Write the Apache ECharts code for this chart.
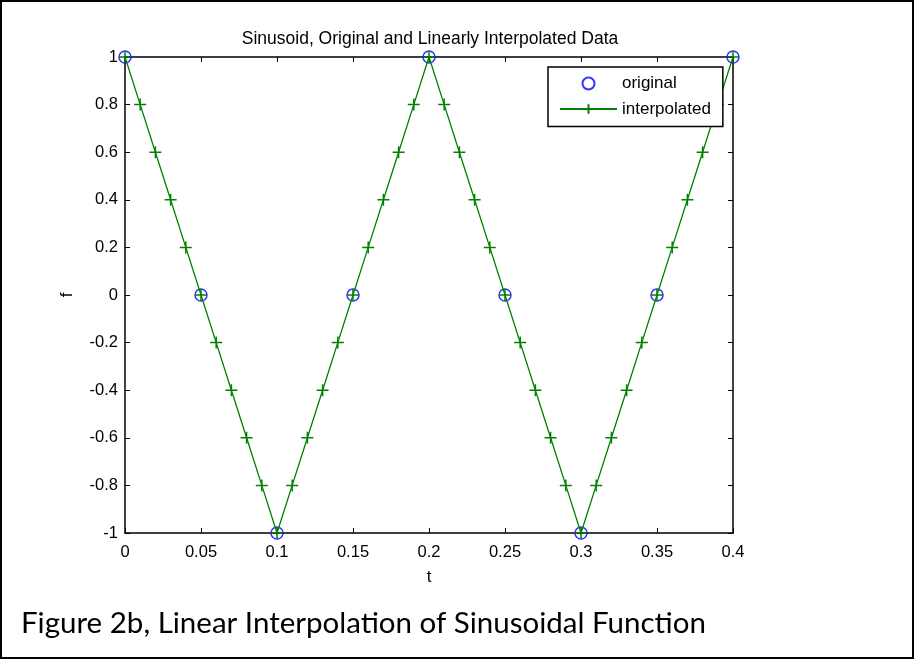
<!DOCTYPE html>
<html><head><meta charset="utf-8">
<script src="https://cdn.jsdelivr.net/npm/echarts@6/dist/echarts.min.js"></script>
<style>html,body{margin:0;padding:0;background:#fff}#c{width:915px;height:660px}</style>
</head><body><div id="c"></div>
<script>
const titleText = 'Sinusoid, Original and Linearly Interpolated Data';
const captionText = 'Figure 2b, Linear Interpolation of Sinusoidal Function';
const xName = 't';
const yName = 'f';
const origT = [0, 0.05, 0.1, 0.15, 0.2, 0.25, 0.3, 0.35, 0.4];
const origF = [1, 0, -1, 0, 1, 0, -1, 0, 1];
const interpT = [0,0.01,0.02,0.03,0.04,0.05,0.06,0.07,0.08,0.09,0.1,0.11,0.12,0.13,0.14,0.15,0.16,0.17,0.18,0.19,0.2,0.21,0.22,0.23,0.24,0.25,0.26,0.27,0.28,0.29,0.3,0.31,0.32,0.33,0.34,0.35,0.36,0.37,0.38,0.39,0.4];
const interpF = [1,0.8,0.6,0.4,0.2,0,-0.2,-0.4,-0.6,-0.8,-1,-0.8,-0.6,-0.4,-0.2,0,0.2,0.4,0.6,0.8,1,0.8,0.6,0.4,0.2,0,-0.2,-0.4,-0.6,-0.8,-1,-0.8,-0.6,-0.4,-0.2,0,0.2,0.4,0.6,0.8,1];
const seriesNames = ['original', 'interpolated'];

const font = 'Liberation Sans, Arial, sans-serif';
const chart = echarts.init(document.getElementById('c'));
const axisCommon = {
  axisLine: {show: true, onZero: false, lineStyle: {color: '#000', width: 1.5}},
  axisTick: {show: true, inside: true, length: 5, lineStyle: {color: '#000', width: 1}},
  splitLine: {show: false}
};
const plus = 'path://M0,-1L0,1M-1,0L1,0';
chart.setOption({
  animation: false,
  title: {text: titleText, left: 425, top: 25, textAlign: 'center',
    textStyle: {fontFamily: font, fontSize: 17.5, fontWeight: 'normal', color: '#000'}},
  grid: {left: 125, right: 182, top: 57, bottom: 127},
  xAxis: [
    Object.assign({type: 'value', min: 0, max: 0.4, interval: 0.05, position: 'bottom',
      name: xName, nameLocation: 'middle', nameGap: 36,
      nameTextStyle: {fontFamily: font, fontSize: 17, color: '#000'},
      axisLabel: {fontFamily: font, fontSize: 16.5, color: '#000', margin: 11}}, axisCommon),
    Object.assign({type: 'value', min: 0, max: 0.4, interval: 0.05, position: 'top',
      axisLabel: {show: false}}, axisCommon)
  ],
  yAxis: [
    Object.assign({type: 'value', min: -1, max: 1, interval: 0.2, position: 'left',
      name: yName, nameLocation: 'middle', nameGap: 49,
      nameTextStyle: {fontFamily: font, fontSize: 17, color: '#000'},
      axisLabel: {fontFamily: font, fontSize: 16.5, color: '#000', margin: 7}}, axisCommon),
    Object.assign({type: 'value', min: -1, max: 1, interval: 0.2, position: 'right',
      axisLabel: {show: false}}, axisCommon)
  ],
  legend: {
    orient: 'vertical', left: 548, top: 67,
    padding: [8, 12, 9, 11], itemGap: 8.5, itemWidth: 57, itemHeight: 12,
    borderColor: '#000', borderWidth: 1.5, backgroundColor: '#fff', borderRadius: 0,
    textStyle: {fontFamily: font, fontSize: 17, color: '#000', padding: [0, 0, 0, 0]},
    data: [
      {name: seriesNames[0]},
      {name: seriesNames[1]}
    ]
  },
  series: [
    {name: seriesNames[0], type: 'scatter', data: origT.map((t, i) => [t, origF[i]]),
      symbol: 'circle', symbolSize: 12, z: 2,
      itemStyle: {color: 'rgba(0,0,0,0)', borderColor: '#0000ff', borderWidth: 1.5}},
    {name: seriesNames[1], type: 'line', data: interpT.map((t, i) => [t, interpF[i]]),
      symbol: plus, symbolSize: 12, showSymbol: true, z: 3,
      lineStyle: {color: '#008000', width: 1.3},
      itemStyle: {color: 'rgba(0,0,0,0)', borderColor: '#008000', borderWidth: 1.5}}
  ],
  graphic: [
    {type: 'rect', shape: {x: 1, y: 1, width: 912, height: 657}, z: -10,
      style: {fill: 'none', stroke: '#000', lineWidth: 2}},
    {type: 'text', left: 21, top: 608, z: 10,
      style: {text: captionText, fontFamily: 'Lato, Open Sans, sans-serif', fontSize: 29.5, fill: '#000'}}
  ]
});
</script></body></html>
